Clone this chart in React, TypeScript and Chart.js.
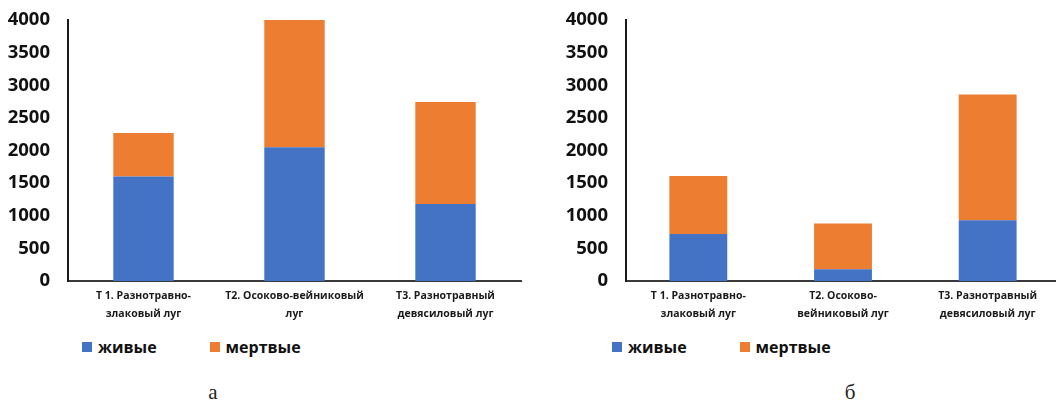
import React, { useEffect, useRef } from "react";
import { Chart, registerables } from "chart.js";

Chart.register(...registerables);

const seriesNames = ["живые", "мертвые"];
const seriesColors = ["#4472C4", "#ED7D31"];

const categoriesA = [
  ["Т 1. Разнотравно-", "злаковый луг"],
  ["Т2. Осоково-вейниковый", "луг"],
  ["Т3. Разнотравный", "девясиловый луг"],
];
const liveA = [1600, 2050, 1180];
const deadA = [670, 1950, 1565];

const categoriesB = [
  ["Т 1. Разнотравно-", "злаковый луг"],
  ["Т2. Осоково-", "вейниковый луг"],
  ["Т3. Разнотравный", "девясиловый луг"],
];
const liveB = [720, 180, 930];
const deadB = [890, 700, 1930];

const yMax = 4000;
const yStep = 500;

const FONT = "'Open Sans', 'Noto Sans', sans-serif";

type PanelProps = {
  labels: string[][];
  live: number[];
  dead: number[];
  left: number;
  width: number;
  axisWidth: number;
  padRight: number;
  caption: string;
  legendLeft: number;
  captionX: number;
};

function Panel(p: PanelProps) {
  const ref = useRef<HTMLCanvasElement | null>(null);
  useEffect(() => {
    if (!ref.current) return;
    const chart = new Chart(ref.current, {
      type: "bar",
      data: {
        labels: p.labels,
        datasets: [
          { label: seriesNames[0], data: p.live, backgroundColor: seriesColors[0] },
          { label: seriesNames[1], data: p.dead, backgroundColor: seriesColors[1] },
        ],
      },
      options: {
        animation: false,
        responsive: false,
        devicePixelRatio: 1,
        layout: { padding: { top: 20, right: p.padRight, left: 0, bottom: 0 } },
        plugins: { legend: { display: false }, tooltip: { enabled: false } },
        datasets: { bar: { barPercentage: 0.4, categoryPercentage: 1 } },
        scales: {
          x: {
            stacked: true,
            grid: { display: false, drawTicks: false },
            border: { display: true, color: "#3a3a3a", width: 2 },
            ticks: {
              color: "#1a1a1a",
              padding: 6,
              maxRotation: 0,
              autoSkip: false,
              font: { family: FONT, size: 10.5, weight: "bold", lineHeight: 1.7 },
            },
            afterFit: (s: any) => {
              s.height = 49;
              s.paddingLeft = 0;
              s.paddingRight = 0;
            },
          },
          y: {
            stacked: true,
            min: 0,
            max: yMax,
            grid: { display: false, drawTicks: false },
            border: { display: true, color: "#1a1a1a", width: 2 },
            ticks: {
              stepSize: yStep,
              color: "#111",
              padding: 18,
              font: { family: FONT, size: 18.5, weight: "bold" },
              callback: (v: any) => String(v),
            },
            afterFit: (s: any) => {
              s.width = p.axisWidth;
              s.paddingTop = 0;
              s.paddingBottom = 0;
            },
          },
        },
      },
    });
    return () => chart.destroy();
  }, []);

  const legendText: React.CSSProperties = {
    fontFamily: FONT,
    fontWeight: 700,
    fontSize: 16,
    color: "#111",
    lineHeight: "20px",
  };
  const sq = (c: string): React.CSSProperties => ({
    width: 10,
    height: 10,
    background: c,
    display: "inline-block",
    marginRight: 6,
  });

  return (
    <>
      <canvas
        ref={ref}
        width={p.width}
        height={330}
        style={{ position: "absolute", left: p.left, top: 0, width: p.width, height: 330 }}
      />
      <div
        style={{
          position: "absolute",
          left: p.legendLeft,
          top: 337,
          display: "flex",
          alignItems: "center",
          whiteSpace: "nowrap",
        }}
      >
        <span style={sq(seriesColors[0])} />
        <span style={{ ...legendText, marginRight: 53 }}>{seriesNames[0]}</span>
        <span style={sq(seriesColors[1])} />
        <span style={legendText}>{seriesNames[1]}</span>
      </div>
      <div
        style={{
          position: "absolute",
          left: p.captionX - 20,
          width: 40,
          top: 380,
          textAlign: "center",
          fontFamily: "'Liberation Serif', 'DejaVu Serif', serif",
          fontSize: 21,
          color: "#222",
        }}
      >
        {p.caption}
      </div>
    </>
  );
}

export default function App() {
  return (
    <div
      style={{
        position: "absolute",
        left: 0,
        top: 0,
        width: 1056,
        height: 403,
        overflow: "hidden",
        background: "#fff",
      }}
    >
      <Panel
        labels={categoriesA}
        live={liveA}
        dead={deadA}
        left={0}
        width={540}
        axisWidth={68}
        padRight={19}
        caption="а"
        legendLeft={82}
        captionX={213}
      />
      <Panel
        labels={categoriesB}
        live={liveB}
        dead={deadB}
        left={560}
        width={500}
        axisWidth={66}
        padRight={0}
        caption="б"
        legendLeft={612}
        captionX={850}
      />
    </div>
  );
}
